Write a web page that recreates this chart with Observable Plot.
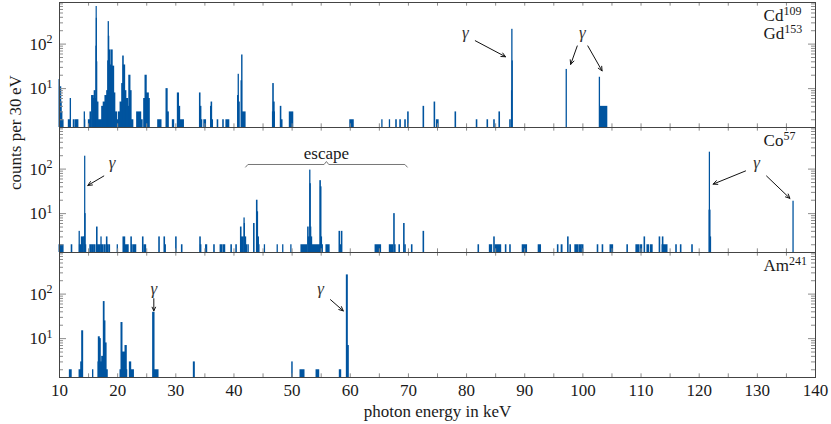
<!DOCTYPE html>
<html><head><meta charset="utf-8">
<script src="https://cdn.jsdelivr.net/npm/d3@7"></script>
<script src="https://cdn.jsdelivr.net/npm/@observablehq/plot@0.6"></script>
<style>
body{margin:0;background:#fff}
#chart svg{display:block}
#chart svg, #chart svg text{font-family:"Liberation Serif","DejaVu Serif",serif !important}
</style>
</head><body><div id="chart"></div>
<script>
// ---- data ----
const panels = ["Cd109/Gd153", "Co57", "Am241"];

// [bin start keV, bin end keV, counts per 30 eV]
const binsCdGd = [
 [10.00,10.08,16],[10.08,10.30,11],[10.30,10.38,5],[10.38,10.50,3],[10.50,10.70,2],
 [11.60,11.92,2],[11.92,11.98,6],[12.45,12.60,2],[12.80,13.05,2],[13.15,13.25,2],
 [14.33,14.38,3],[14.38,14.44,2],[15.05,15.33,2],[15.33,15.50,3],[15.60,15.90,7],
 [15.90,16.05,6],[16.05,16.22,9],[16.22,16.35,6],[16.35,16.38,90],[16.38,16.41,700],
 [16.41,16.44,380],[16.44,16.50,40],[16.50,16.70,5],[16.70,17.30,2],[17.34,17.60,4],
 [17.60,17.90,5],[17.90,18.20,7],[18.20,18.37,9],[18.37,18.45,42],[18.45,18.50,320],
 [18.50,18.56,150],[18.56,18.75,74],[18.75,18.95,34],[18.95,19.15,74],[19.15,19.40,32],
 [19.40,19.60,8],[19.60,19.90,3],[19.90,20.20,2],[20.20,20.50,3],[20.50,20.78,5],
 [20.78,20.95,13],[20.95,21.05,54],[21.05,21.29,34],[21.29,21.50,9],[21.50,21.80,6],
 [21.80,22.00,4],[22.00,22.20,20],[22.20,22.40,9],[22.40,22.70,2],[23.35,24.05,3],
 [24.10,24.30,2],[24.56,24.79,6],[24.79,25.00,20],[25.00,25.36,8],[25.36,25.53,6],
 [26.97,27.54,2],[28.40,28.60,10],[28.60,28.80,3],[29.49,29.72,2],[30.35,30.55,8],
 [30.55,30.75,4],[30.80,31.40,2],[34.15,34.25,8],[34.25,34.40,4],[34.40,34.55,2],
 [34.90,35.20,2],[36.05,36.15,4],[36.15,36.25,5],[36.25,36.40,2],[37.20,37.30,2],
 [38.15,38.25,2],[38.70,39.20,2],[40.70,40.80,7],[40.80,40.85,21],[40.85,41.00,5],
 [41.30,41.40,15],[41.40,41.47,57],[41.47,42.00,3],[46.75,46.85,13],[46.85,47.00,5],
 [46.70,47.05,3],[48.05,48.15,4],[48.15,48.35,2],[49.60,50.20,3],[60.00,60.60,2],
 [65.50,65.55,2],[66.80,66.85,2],[67.90,68.00,2],[68.60,68.70,2],[69.45,69.55,2],
 [69.95,70.05,3],[72.60,72.70,4],[74.50,74.60,5],[74.90,75.20,2],[78.10,78.20,3],
 [81.75,81.85,2],[83.60,83.70,2],[84.75,84.85,2],[85.65,85.75,3],[87.50,87.60,2],
 [87.80,87.85,9],[87.85,87.90,215],[87.90,87.95,42],[97.20,97.25,27],
 [102.90,102.95,18],[102.95,104.20,4]
];
const binsCo = [
 [10.00,10.70,2],[12.10,12.20,2],[13.45,13.50,4],[13.50,13.80,2],[13.84,14.18,3],
 [14.25,14.40,3],[14.40,14.44,195],[14.44,14.50,10],[14.50,14.60,2],[15.30,15.45,2],
 [15.60,15.80,2],[15.95,16.20,2],[16.45,16.55,5],[16.55,16.80,2],[16.95,17.10,2],
 [17.20,17.25,3],[17.25,17.60,2],[17.80,17.95,2],[18.15,18.25,3],[18.25,18.40,2],
 [18.55,18.70,2],[20.00,20.05,2],[21.00,21.30,3],[21.30,21.90,2],[22.35,22.45,3],
 [22.45,22.60,2],[22.80,23.20,2],[24.35,24.45,3],[24.60,24.90,2],[27.15,27.25,3],
 [28.05,28.15,3],[28.20,28.30,2],[30.05,30.15,3],[31.05,31.15,2],[34.20,34.30,3],
 [34.30,34.40,2],[35.20,35.40,2],[36.60,36.70,2],[37.70,38.00,2],[38.20,38.50,2],
 [39.55,39.65,2],[40.40,40.50,2],[41.20,41.30,5],[41.30,41.70,3],[41.80,41.85,8],
 [41.85,41.90,6],[41.90,42.10,3],[42.10,42.30,2],[42.50,42.55,2],[43.45,43.55,6],
 [43.95,44.05,20],[44.05,44.15,11],[44.15,44.30,3],[44.30,44.40,2],[45.30,45.35,2],
 [47.50,47.55,2],[48.45,48.50,2],[49.85,49.90,2],[51.60,52.60,2],[52.75,52.85,5],
 [52.85,53.10,3],[53.10,53.15,95],[53.15,53.22,47],[53.22,53.30,5],[53.30,53.45,3],
 [53.45,54.80,2],[54.85,54.95,55],[54.95,55.05,40],[55.05,55.15,3],[55.15,55.30,2],
 [55.90,56.45,2],[58.15,58.25,4],[58.25,58.50,2],[58.55,58.65,4],[64.35,65.30,2],
 [66.80,67.40,2],[67.55,67.65,10],[67.70,67.80,2],[68.45,68.55,2],[69.25,69.35,6],
 [69.45,69.55,2],[70.60,70.70,2],[72.60,72.70,4],[82.05,82.15,2],[84.00,84.40,2],
 [84.75,84.85,3],[85.00,85.95,2],[86.75,86.85,2],[87.50,87.60,2],[89.65,90.40,2],
 [92.40,92.80,2],[95.70,95.80,2],[96.35,96.50,2],[97.45,97.55,3],[97.85,97.95,2],
 [98.70,99.20,2],[99.40,99.80,2],[99.90,100.10,2],[102.55,102.65,2],[103.40,103.50,2],
 [104.75,105.20,2],[107.65,107.75,2],[109.20,109.75,2],[110.00,110.20,2],[110.60,110.70,3],
 [111.10,111.40,2],[111.70,112.00,2],[113.20,113.30,3],[113.75,113.85,3],[113.70,114.55,2],
 [116.05,116.15,2],[116.85,116.95,2],[118.80,118.90,2],[121.78,121.82,12],[121.82,121.86,240],
 [121.86,121.95,12],[121.95,122.05,3],[136.20,136.25,19]
];
const binsAm = [
 [11.78,12.10,2],[13.45,13.73,2],[13.73,13.90,3],[13.90,14.07,15],[15.76,15.82,2],
 [16.70,16.76,3],[16.76,16.93,11],[16.93,17.10,10],[17.10,17.34,3],[17.34,17.51,4],
 [17.51,17.62,3],[17.62,17.75,68],[17.75,17.90,25],[17.90,18.10,8],[18.10,18.30,2],
 [20.49,20.66,2],[20.66,20.83,23],[20.83,21.35,5],[21.35,21.57,7],[21.57,21.65,2],
 [22.10,22.33,3],[22.33,22.80,2],[26.10,26.34,39],[26.34,27.03,2],[33.10,33.27,3],
 [50.02,50.10,3],[51.44,52.13,2],[54.20,54.66,2],[58.20,58.44,2],[59.41,59.58,270],
 [59.58,59.75,7]
];

const countFloor = 1;
const xLabelTicks = [10,20,30,40,50,60,70,80,90,100,110,120,130,140];
const xMinorTicks = [15,20,25,30,35,40,45,50,55,60,65,70,75,80,85,90,95,100,105,110,115,120,125,130,135];
const yMajorTicks = [10,100];
const yMinorTicks = [2,3,4,5,6,7,8,9,20,30,40,50,60,70,80,90,200,300,400,500,600,700,800];

const panelLabels = [
 {panel: panels[0], x: 131.07, text: "Cd^109", line: 0},
 {panel: panels[0], x: 131.07, text: "Gd^153", line: 1},
 {panel: panels[1], x: 131.07, text: "Co^57", line: 0},
 {panel: panels[2], x: 131.07, text: "Am^241", line: 0}
];
const gammaLabels = [
 {panel: panels[0], x: 79.8, y: 185},
 {panel: panels[0], x: 99.9, y: 182},
 {panel: panels[1], x: 19.06, y: 140},
 {panel: panels[1], x: 129.86, y: 140},
 {panel: panels[2], x: 26.22, y: 136},
 {panel: panels[2], x: 54.88, y: 136}
];
const gammaArrows = [
 {panel: panels[0], x1: 81.5, y1: 119, x2: 86.7, y2: 52},
 {panel: panels[0], x1: 99.03, y1: 91, x2: 97.9, y2: 35},
 {panel: panels[0], x1: 100.85, y1: 91, x2: 103.3, y2: 25},
 {panel: panels[1], x1: 17.62, y1: 70, x2: 14.87, y2: 43},
 {panel: panels[1], x1: 127.97, y1: 91, x2: 122.4, y2: 46},
 {panel: panels[1], x1: 131.58, y1: 70, x2: 135.6, y2: 22},
 {panel: panels[2], x1: 26.22, y1: 79, x2: 26.22, y2: 42},
 {panel: panels[2], x1: 56.6, y1: 75, x2: 58.8, y2: 42}
];
const escapeBrace = [
 {panel: panels[1], x: 42.0, y: 111}, {panel: panels[1], x: 42.4, y: 127},
 {panel: panels[1], x: 55.5, y: 127}, {panel: panels[1], x: 55.9, y: 148},
 {panel: panels[1], x: 56.3, y: 127}, {panel: panels[1], x: 69.4, y: 127},
 {panel: panels[1], x: 69.8, y: 111}
];
const escapeLabel = [{panel: panels[1], x: 55.9, y: 226, text: "escape"}];

// ---- build ----
const rows = [];
[[panels[0], binsCdGd], [panels[1], binsCo], [panels[2], binsAm]].forEach(([p, bins]) =>
  bins.forEach(([lo, hi, c]) => rows.push({panel: p, lo, hi, count: c})));

const W = 831, H = 424, mL = 59, mR = 16, mT = 1, mB = 47;
const plotW = W - mL - mR;
const facetH = (H - mT - mB) / panels.length;
const barColor = "#00549F";
const tickColor = "#8c8c8c";
const ink = "#1a1a1a";

const chart = Plot.plot({
  width: W, height: H,
  marginLeft: mL, marginRight: mR, marginTop: mT, marginBottom: mB,
  style: {fontFamily: "Liberation Serif", fontSize: "17px", color: ink, background: "#fff"},
  x: {domain: [10, 140]},
  y: {type: "log", domain: [1.34, 860], clamp: true},
  fy: {domain: panels, axis: null, padding: 0},
  marks: [
    Plot.rect(rows, {x1: "lo", x2: "hi", y1: () => countFloor, y2: "count", fy: "panel",
      fill: barColor, insetLeft: -0.5, insetRight: -0.5}),
    // inward ticks (repeated in every facet)
    Plot.tickX(xMinorTicks, {x: d => d, stroke: tickColor, insetTop: facetH - 4}),
    Plot.tickX(xMinorTicks, {x: d => d, stroke: tickColor, insetBottom: facetH - 4}),
    Plot.tickY(yMinorTicks, {y: d => d, stroke: tickColor, insetRight: plotW - 4}),
    Plot.tickY(yMinorTicks, {y: d => d, stroke: tickColor, insetLeft: plotW - 4}),
    Plot.tickY(yMajorTicks, {y: d => d, stroke: tickColor, insetRight: plotW - 7}),
    Plot.tickY(yMajorTicks, {y: d => d, stroke: tickColor, insetLeft: plotW - 7}),
    // tick labels
    Plot.axisY(yMajorTicks, {anchor: "left", tickSize: 0, tickPadding: 7, label: null,
      tickFormat: d => "10^" + Math.round(Math.log10(d))}),
    Plot.axisX(xLabelTicks, {anchor: "bottom", tickSize: 0, tickPadding: 6, label: null}),
    Plot.frame({stroke: "#444"}),
    Plot.text(panelLabels.filter(d => d.line === 0), {x: "x", fy: "panel", text: "text", frameAnchor: "top",
      textAnchor: "start", lineAnchor: "middle", dy: 13.5, fill: ink}),
    Plot.text(panelLabels.filter(d => d.line === 1), {x: "x", fy: "panel", text: "text", frameAnchor: "top",
      textAnchor: "start", lineAnchor: "middle", dy: 31.5, fill: ink}),
    Plot.arrow(gammaArrows, {x1: "x1", y1: "y1", x2: "x2", y2: "y2", fy: "panel", stroke: "#111",
      strokeWidth: 1, headLength: 7, headAngle: 50}),
    Plot.text(gammaLabels, {x: "x", y: "y", fy: "panel", text: () => "γ", fontStyle: "italic", fill: "#333"}),
    Plot.line(escapeBrace, {x: "x", y: "y", fy: "panel", stroke: "#777", strokeWidth: 1}),
    Plot.text(escapeLabel, {x: "x", y: "y", fy: "panel", text: "text", fill: ink}),
    Plot.text(["counts per 30\u2009eV"], {fy: [panels[1]], text: d => d, frameAnchor: "left",
      rotate: -90, dx: -44, fill: ink}),
    Plot.text(["photon energy in keV"], {fy: [panels[2]], text: d => d, frameAnchor: "bottom",
      lineAnchor: "middle", dy: 34, fill: ink})
  ]
});

// render "a^b" as superscript tspans
chart.querySelectorAll("text").forEach(t => {
  if (t.children.length) return;
  const m = (t.textContent || "").match(/^(.*)\^(\S+)$/);
  if (!m) return;
  t.textContent = "";
  const ns = "http://www.w3.org/2000/svg";
  const base = document.createElementNS(ns, "tspan");
  base.textContent = m[1];
  const sup = document.createElementNS(ns, "tspan");
  sup.textContent = m[2];
  sup.setAttribute("dy", "-6.5");
  sup.setAttribute("font-size", "12px");
  t.appendChild(base); t.appendChild(sup);
});

document.getElementById("chart").appendChild(chart);
</script>
</body></html>
